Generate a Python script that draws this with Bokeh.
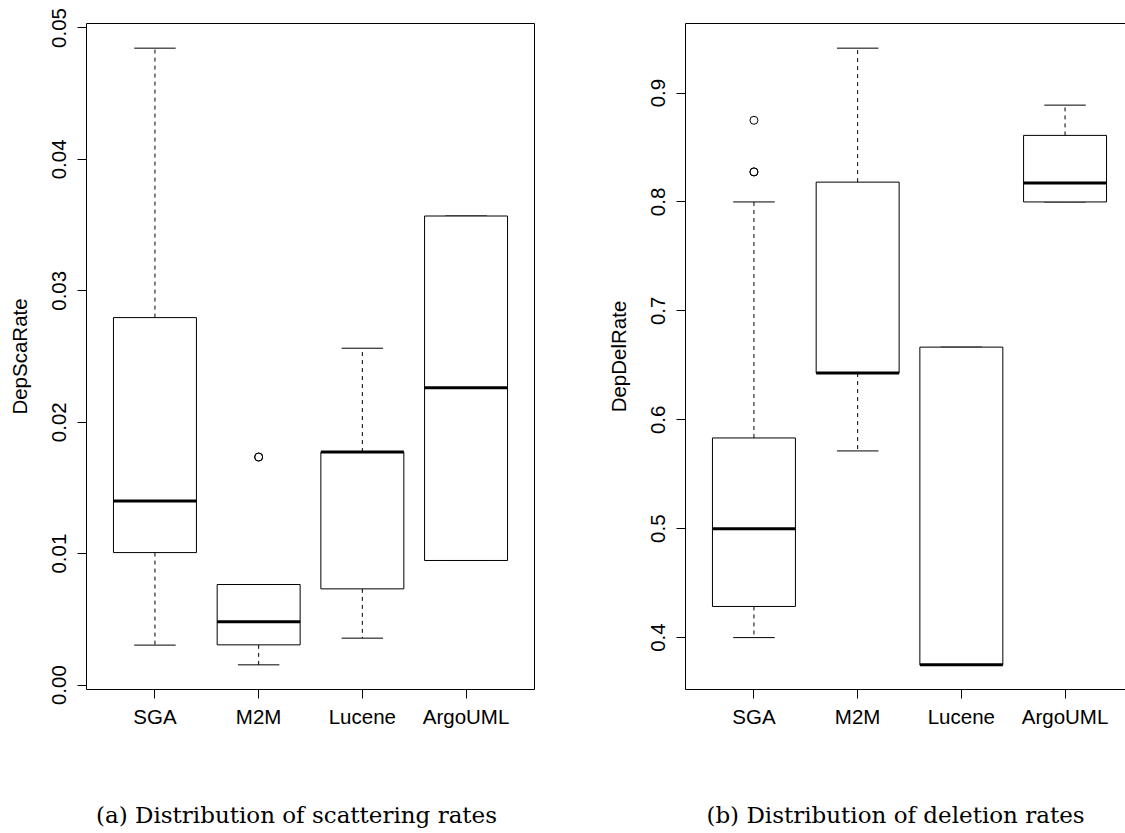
from bokeh.plotting import figure
from bokeh.models import Range1d, FixedTicker, LinearAxis
from bokeh.layouts import row, column
from bokeh.core.properties import value
from bokeh.embed import file_html
from bokeh.resources import INLINE

categories = ["SGA", "M2M", "Lucene", "ArgoUML"]

# (a) DepScaRate box statistics
sca_lower = [0.00304, 0.00154, 0.00357, 0.00948]
sca_q1 = [0.01008, 0.00306, 0.00732, 0.00948]
sca_median = [0.01400, 0.00481, 0.01773, 0.02262]
sca_q3 = [0.02796, 0.00765, 0.01773, 0.03569]
sca_upper = [0.04846, 0.00765, 0.02563, 0.03569]
sca_out_cat = ["M2M", "M2M"]
sca_out_val = [0.01735, 0.01735]
sca_ticks = [0.00, 0.01, 0.02, 0.03, 0.04, 0.05]
sca_tick_labels = ["0.00", "0.01", "0.02", "0.03", "0.04", "0.05"]

# (b) DepDelRate box statistics
del_lower = [0.4000, 0.5714, 0.3750, 0.8000]
del_q1 = [0.4286, 0.6429, 0.3750, 0.8000]
del_median = [0.5000, 0.6429, 0.3750, 0.8175]
del_q3 = [0.5833, 0.8182, 0.6667, 0.8611]
del_upper = [0.8000, 0.9412, 0.6667, 0.8889]
del_out_cat = ["SGA", "SGA", "SGA"]
del_out_val = [0.8750, 0.8276, 0.8276]
del_ticks = [0.4, 0.5, 0.6, 0.7, 0.8, 0.9]
del_tick_labels = ["0.4", "0.5", "0.6", "0.7", "0.8", "0.9"]

captions = ["(a) Distribution of scattering rates", "(b) Distribution of deletion rates"]

SANS = "Liberation Sans"
FS = "20.5px"
H = 760
CAP_H = 73
TOP = 23
FRAME_H = 666
FULL_FRAME_W = 448


def make_panel(ylabel, lower, q1, med, q3, upper, out_cat, out_val,
               ticks, tick_labels, width, border_l, frame_w, full_outline):
    n = len(categories)
    xs = [i + 1 for i in range(n)]
    # R style limits: 0.5..n+0.5 extended by 4%
    x0 = 0.5 - 0.04 * n
    span_full = n + 0.08 * n
    x1 = x0 + span_full * frame_w / FULL_FRAME_W
    allv = lower + upper + out_val
    lo, hi = min(allv), max(allv)
    pad = 0.04 * (hi - lo)

    p = figure(width=width, height=H, output_backend="svg", toolbar_location=None,
               x_range=Range1d(x0, x1), y_range=Range1d(lo - pad, hi + pad),
               min_border_left=border_l, min_border_right=width - border_l - frame_w,
               min_border_top=TOP, min_border_bottom=H - TOP - FRAME_H)
    p.background_fill_color = "white"
    p.border_fill_color = "white"
    p.xgrid.visible = False
    p.ygrid.visible = False

    # whiskers
    p.segment(x0=xs, y0=q3, x1=xs, y1=upper, line_color="black", line_width=1, line_dash="4 4")
    p.segment(x0=xs, y0=q1, x1=xs, y1=lower, line_color="black", line_width=1, line_dash="4 4")
    # staples
    p.segment(x0=[x - 0.2 for x in xs], y0=upper, x1=[x + 0.2 for x in xs], y1=upper,
              line_color="black", line_width=1)
    p.segment(x0=[x - 0.2 for x in xs], y0=lower, x1=[x + 0.2 for x in xs], y1=lower,
              line_color="black", line_width=1)
    # boxes
    p.vbar(x=xs, width=0.8, bottom=q1, top=q3, fill_color="white",
           line_color="black", line_width=1)
    # medians
    p.segment(x0=[x - 0.4 for x in xs], y0=med, x1=[x + 0.4 for x in xs], y1=med,
              line_color="black", line_width=3)
    # outliers
    ox = [categories.index(c) + 1 for c in out_cat]
    p.scatter(x=ox, y=out_val, marker="circle", size=8, fill_color=None,
              line_color="black", line_width=1)

    # axes
    for ax in (p.xaxis[0], p.yaxis[0]):
        ax.major_tick_out = 9
        ax.major_tick_in = 0
        ax.minor_tick_out = 0
        ax.minor_tick_in = 0
        ax.major_tick_line_color = "black"
        ax.major_label_text_font = SANS
        ax.major_label_text_font_size = FS
        ax.major_label_text_color = "black"
        ax.axis_label_text_font = SANS
        ax.axis_label_text_font_size = FS
        ax.axis_label_text_font_style = "normal"
        ax.axis_label_text_color = "black"
        ax.axis_line_color = "black" if not full_outline else None

    p.xaxis.ticker = FixedTicker(ticks=xs)
    p.xaxis.major_label_overrides = {x: c for x, c in zip(xs, categories)}
    p.xaxis.major_label_standoff = 6

    p.yaxis.ticker = FixedTicker(ticks=ticks)
    p.yaxis.major_label_overrides = {t: s for t, s in zip(ticks, tick_labels)}
    p.yaxis.major_label_orientation = "vertical"
    p.yaxis.major_label_standoff = 11
    p.yaxis.axis_label = ylabel
    p.yaxis.axis_label_standoff = 19

    if full_outline:
        p.outline_line_color = "black"
        p.outline_line_width = 1
    else:
        p.outline_line_color = None
        top = LinearAxis(ticker=FixedTicker(ticks=[]), axis_line_color="black",
                         major_tick_line_color=None, minor_tick_line_color=None,
                         major_label_text_font_size="0px")
        p.add_layout(top, "above")
    return p


def make_caption(text, width, center_x):
    c = figure(width=width, height=CAP_H, output_backend="svg", toolbar_location=None,
               x_range=Range1d(0, width), y_range=Range1d(0, CAP_H),
               x_axis_type=None, y_axis_type=None,
               min_border=0, min_border_left=0, min_border_right=0,
               min_border_top=0, min_border_bottom=0)
    c.outline_line_color = None
    c.background_fill_color = "white"
    c.border_fill_color = "white"
    c.text(x=[center_x], y=[18.5], text=[text], text_align="center",
           text_baseline="alphabetic", text_font=value("DejaVu Serif"),
           text_font_size="23px", text_color="black")
    return c


p1 = make_panel("DepScaRate", sca_lower, sca_q1, sca_median, sca_q3, sca_upper,
                sca_out_cat, sca_out_val, sca_ticks, sca_tick_labels, 568, 86, 448, True)
p2 = make_panel("DepDelRate", del_lower, del_q1, del_median, del_q3, del_upper,
                del_out_cat, del_out_val, del_ticks, del_tick_labels, 557, 117, 440, False)
c1 = make_caption(captions[0], 568, 296)
c2 = make_caption(captions[1], 557, 895 - 568)

layout = column(row(p1, p2), row(c1, c2))
open("out.html", "w").write(file_html(layout, INLINE))
